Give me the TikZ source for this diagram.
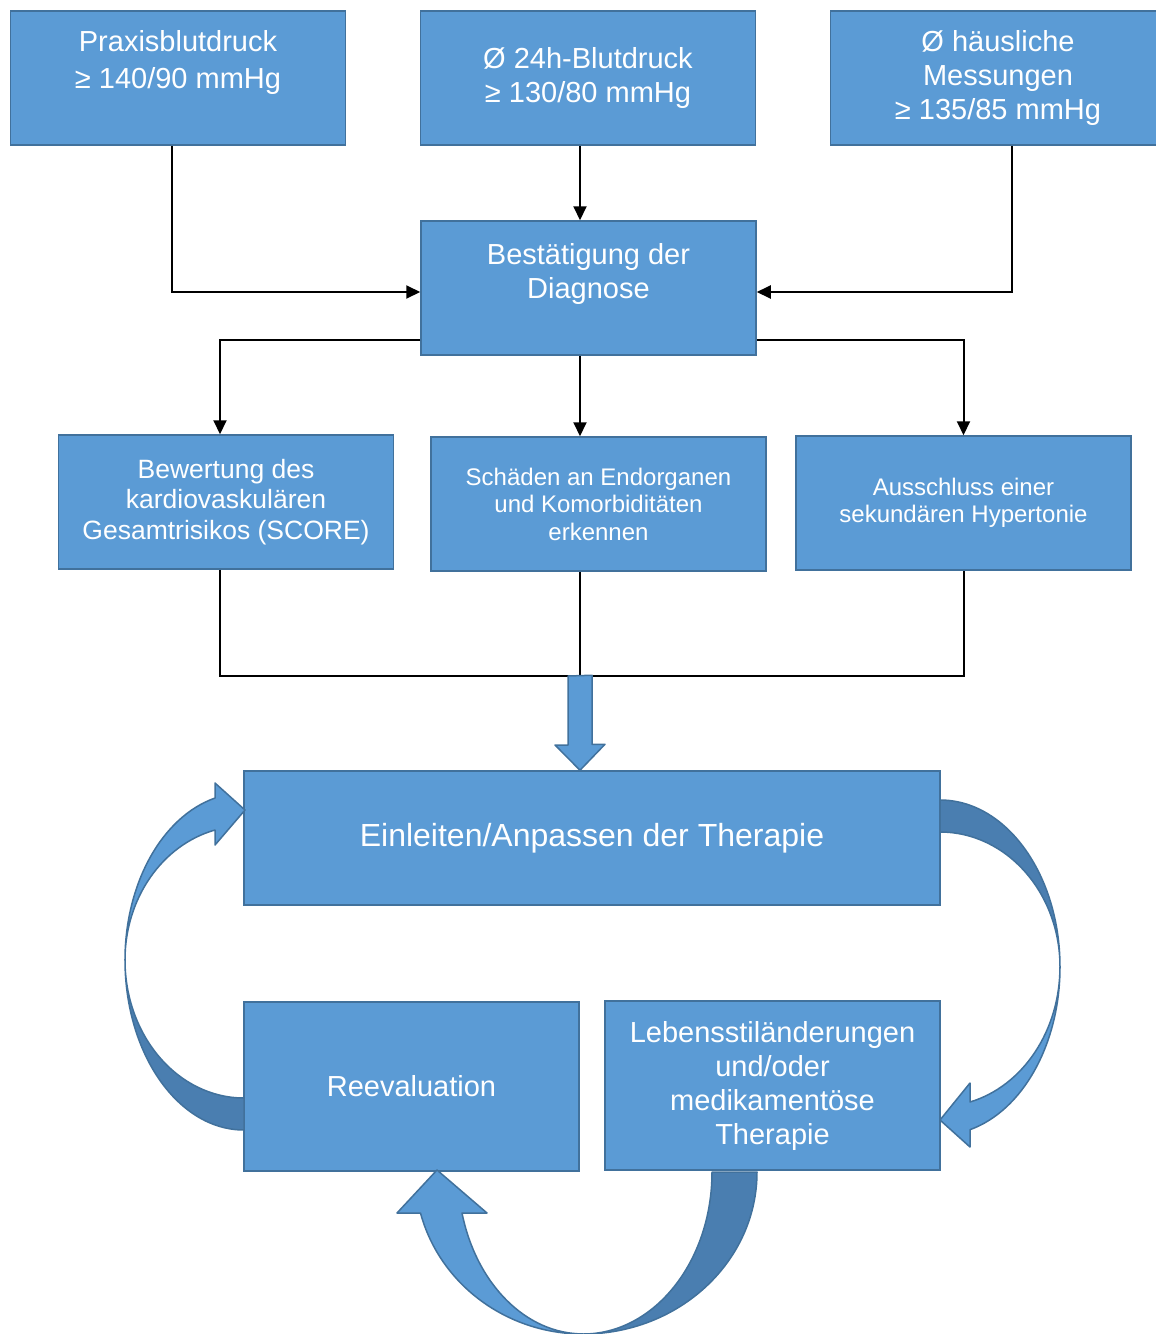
\documentclass[tikz,border=0pt]{standalone}
\usepackage{fontspec}
\setmainfont{Liberation Sans}
\usepackage{xcolor}
\usetikzlibrary{arrows.meta}
\definecolor{boxfill}{HTML}{5B9BD5}
\definecolor{boxline}{HTML}{41719C}
\definecolor{backfill}{HTML}{4A7EB0}

\begin{document}
\begin{tikzpicture}[
    x=1pt, y=1pt, yscale=-1,
    >=Latex,
    block/.style={draw=boxline, fill=boxfill, line width=1.5pt, text=white, align=center, inner sep=2pt, minimum width=335pt, minimum height=134pt, font=\fontsize{29}{34}\selectfont},
    smallblock/.style={block, font=\fontsize{24}{27.5}\selectfont},
    line/.style={-{Triangle[length=14pt,width=13pt]}, line width=2pt},
    link/.style={line width=2pt},
    fatarrow/.style={draw=boxline, fill=boxfill, line width=1.5pt, line join=round},
    backside/.style={draw=boxline, fill=backfill, line width=1.5pt, line join=round}
]
\useasboundingbox (0,0) rectangle (1156,1334);
\coordinate (spine) at (580,0);

% Blood pressure measurements on top.
\node[block, font=\fontsize{29}{37}\selectfont] (praxis) at (178,78) {Praxisblutdruck\\≥ 140/90 mmHg\\\mbox{}};
\node[block] (blut24) at (588,78) {Ø 24h-Blutdruck\\≥ 130/80 mmHg};
\node[block] (haeus) at (998,78) {Ø häusliche\\Messungen\\≥ 135/85 mmHg};
\node[block] (diag) at (588.5,288) {Bestätigung der\\Diagnose\\\mbox{}};

% Diagnostic work-up.
\node[block, font=\fontsize{26.5}{30.5}\selectfont] (score) at (226,502) {Bewertung des\\kardiovaskulären\\Gesamtrisikos (SCORE)};
\node[smallblock] (organ) at (598.5,504) {Schäden an Endorganen\\und Komorbiditäten\\erkennen};
\node[smallblock] (excl) at (963.5,503) {Ausschluss einer\\sekundären Hypertonie};

% Therapy cycle.
\node[block, minimum width=696pt, font=\fontsize{32}{37}\selectfont] (therapy) at (592,838) {Einleiten/Anpassen der Therapie};
\node[block, minimum height=169pt] (reeval) at (411.5,1086.5) {Reevaluation};
\node[block, minimum height=169pt] (lifestyle) at (772.5,1085.5) {Lebensstiländerungen\\und/oder\\medikamentöse\\Therapie};

% Arrows into the diagnosis.
\draw[line] ([xshift=-6pt]praxis.south) |- (diag.west |- 0,292);
\draw[line] (blut24.south -| spine) -- (diag.north -| spine);
\draw[line] ([xshift=14pt]haeus.south) |- (diag.east |- 0,292);

% Arrows out of the diagnosis.
\draw[line] (diag.west |- 0,340) -| ([xshift=-6pt]score.north);
\draw[line] (diag.south -| spine) -- (organ.north -| spine);
\draw[line] (diag.east |- 0,340) -| (excl.north);

% Collect the three branches.
\coordinate (join) at (580,676);
\draw[link] ([xshift=-6pt]score.south) |- (join) -| (excl.south);
\draw[link] (organ.south -| spine) -- (join);
\draw[fatarrow] (join) ++(-12,0) -- ++(0,69) -- ++(-13,0) -- (therapy.north -| spine) -- ++(25,-26) -- ++(-13,0) -- ++(0,-69) -- cycle;

% Curved arrows of the cycle.
\draw[backside] (244,1130) arc[start angle=90, end angle=180, x radius=119, y radius=170] arc[start angle=180, end angle=90, x radius=119, y radius=138] -- cycle;
\draw[fatarrow] (125,960) arc[start angle=180, end angle=255.9, x radius=119, y radius=167] -- (215,783) -- (245,810) -- (215,845) -- (215,830) arc[start angle=255.9, end angle=180, x radius=119, y radius=134] -- cycle;

\draw[backside] (940,800) arc[start angle=270, end angle=360, x radius=120, y radius=167] arc[start angle=0, end angle=-90, x radius=120, y radius=135] -- cycle;
\draw[fatarrow] (1060,967) arc[start angle=0, end angle=75.5, x radius=120, y radius=168] -- (970,1147) -- (940,1120) -- (970,1083) -- (970,1102) arc[start angle=75.5, end angle=0, x radius=120, y radius=139.5] -- cycle;

\draw[backside] (757,1172) arc[start angle=0, end angle=90, x radius=174, y radius=162] arc[start angle=90, end angle=0, x radius=129, y radius=162] -- cycle;
\draw[fatarrow] (583,1334) arc[start angle=90, end angle=165.3, x radius=168, y radius=162] -- (397,1213) -- (437,1170) -- (487,1213) -- (462,1213) arc[start angle=165.3, end angle=90, x radius=125, y radius=162] -- cycle;

\end{tikzpicture}
\end{document}
